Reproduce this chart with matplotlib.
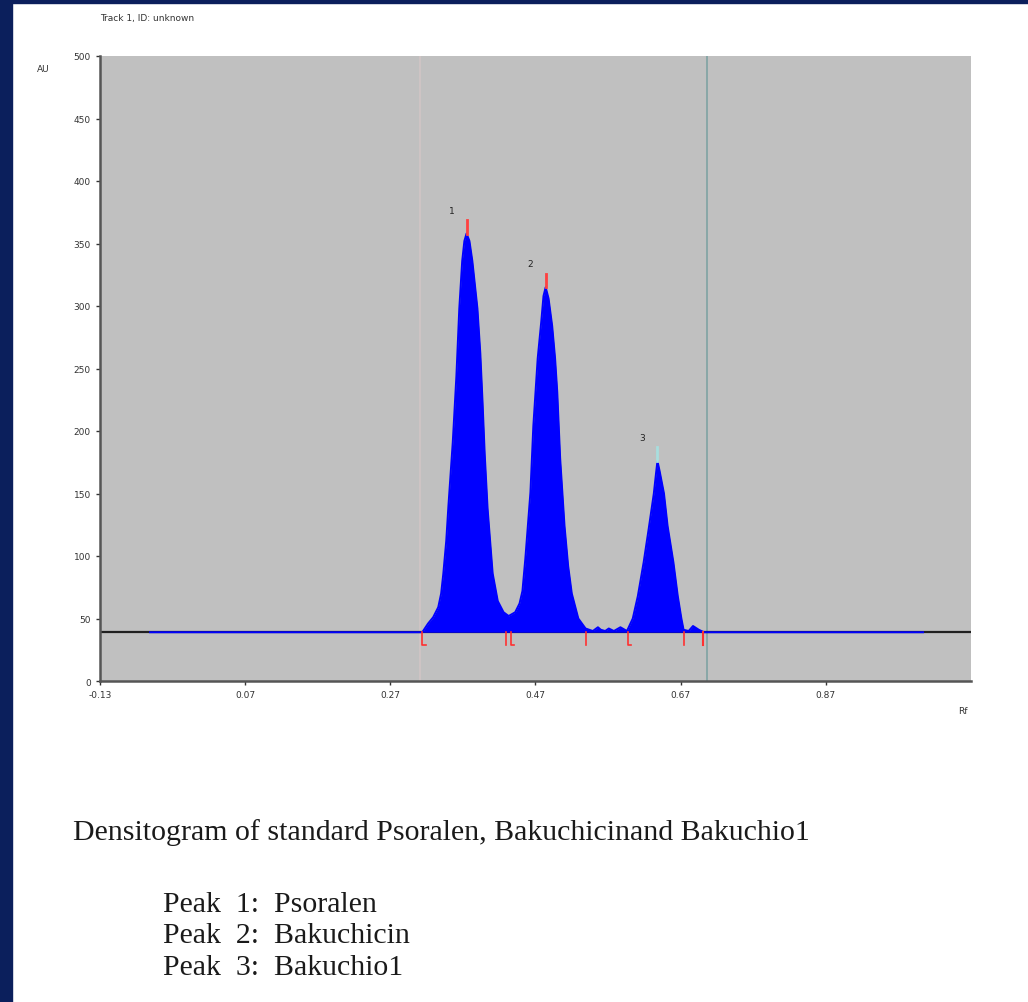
# HPTLC densitogram of standard psoralen, bakuchicin and bakuchiol

import matplotlib
matplotlib.use("Agg")
import matplotlib.pyplot as plt
from matplotlib.patches import Rectangle

# scan: Rf vs AU
rf = [-0.061, 0.314, 0.322, 0.329, 0.336, 0.340, 0.343, 0.347, 0.350, 0.356,
      0.361, 0.365, 0.369, 0.372, 0.375, 0.379, 0.383, 0.390, 0.394, 0.397,
      0.400, 0.404, 0.411, 0.418, 0.426, 0.433,
      0.442, 0.448, 0.452, 0.456, 0.463, 0.467, 0.473, 0.478, 0.481, 0.484,
      0.488, 0.493, 0.497, 0.500, 0.504, 0.510, 0.515, 0.520, 0.529, 0.539,
      0.549, 0.556, 0.560, 0.566, 0.571, 0.578, 0.587, 0.596,
      0.604, 0.611, 0.619, 0.626, 0.633, 0.636, 0.638, 0.641, 0.647,
      0.652, 0.660, 0.666, 0.671, 0.674, 0.681, 0.687, 0.695, 0.702, 1.004]
au = [39, 39, 46, 51, 59, 70, 86, 112, 140, 191,
      244, 298, 336, 352, 358, 352, 336, 298, 262, 224,
      182, 138, 86, 64, 55, 52,
      55, 62, 72, 98, 151, 204, 258, 288, 308, 315,
      306, 284, 258, 231, 178, 124, 92, 70, 50, 42,
      40, 43, 41, 40, 42, 40, 43, 40,
      50, 68, 95, 122, 150, 166, 176, 168, 150,
      124, 95, 68, 50, 41, 40, 44, 41, 39, 39]
baseline = 39

# peaks
peak_names = ["1", "2", "3"]
peak_start = [0.314, 0.436, 0.597]
peak_max_rf = [0.375, 0.484, 0.638]
peak_max_au = [358, 315, 176]
peak_end = [0.430, 0.539, 0.674]
peak_mark_col = ["#ff4040", "#ff4040", "#a8dede"]

# track limits (vertical lines)
track_lines = [0.311, 0.706]
track_cols = ["#d2c6c6", "#7fa3a3"]

xticks = [-0.13, 0.07, 0.27, 0.47, 0.67, 0.87]
xticklabels = ["-0.13", "0.07", "0.27", "0.47", "0.67", "0.87"]
yticks = [0, 50, 100, 150, 200, 250, 300, 350, 400, 450, 500]

caption = "Densitogram of standard Psoralen, Bakuchicinand Bakuchio1"
peak_lines = ["Peak  1:  Psoralen", "Peak  2:  Bakuchicin", "Peak  3:  Bakuchio1"]

fig = plt.figure(figsize=(10.28, 10.03), dpi=100)
fig.patch.set_facecolor("white")
# navy frame on the left and top
fig.patches.append(Rectangle((0, 0), 12/1028, 1, transform=fig.transFigure,
                             color="#0b1f5c", zorder=0))
fig.patches.append(Rectangle((0, 1-4/1003), 1, 4/1003, transform=fig.transFigure,
                             color="#0b1f5c", zorder=0))

ax = fig.add_axes([100/1028, 321/1003, 871/1028, 625/1003])
ax.set_facecolor("#c0c0c0")
ax.set_xlim(-0.13, 1.07)
ax.set_ylim(0, 500)

for x, c in zip(track_lines, track_cols):
    ax.axvline(x, color=c, lw=1.2, zorder=1)

ax.axhline(baseline, color="#202020", lw=1.6, zorder=2)
ax.fill_between(rf, baseline, au, color="#0000ff", lw=0, zorder=3)
ax.plot(rf, au, color="#0000ff", lw=1.4, zorder=4)

# integration marks
for i in range(3):
    ax.plot([peak_max_rf[i]]*2, [peak_max_au[i], peak_max_au[i]+11],
            color=peak_mark_col[i], lw=2, zorder=5)
    ax.plot([peak_start[i], peak_start[i], peak_start[i]+0.005],
            [baseline, baseline-10, baseline-10], color="#ff3030", lw=1.2, zorder=5)
    ax.plot([peak_end[i]]*2, [baseline, baseline-10], color="#ff3030", lw=1.2, zorder=5)
    ax.annotate(peak_names[i], (peak_max_rf[i], peak_max_au[i]), xytext=(-13, 15),
                textcoords="offset points", fontsize=6.5, color="#222222")
ax.plot([0.701]*2, [baseline, baseline-10], color="#ff3030", lw=1.5, zorder=5)

ax.set_xticks(xticks)
ax.set_xticklabels(xticklabels)
ax.set_yticks(yticks)
ax.tick_params(labelsize=6.5, colors="#333333", length=3, width=1)
for s in ["top", "right"]:
    ax.spines[s].set_visible(False)
for s in ["left", "bottom"]:
    ax.spines[s].set_color("#555555")
    ax.spines[s].set_linewidth(1.8)

fig.text(100/1028, 1-18/1003, "Track 1, ID: unknown", fontsize=6.5, color="#333333",
         va="center")
fig.text(37/1028, 1-70/1003, "AU", fontsize=6.5, color="#333333", va="center")
fig.text(958/1028, 1-712/1003, "Rf", fontsize=6.5, color="#333333", va="center")

fig.text(73/1028, 1-833/1003, caption, fontsize=21.5, family="Liberation Serif",
         color="#1a1a1a", va="center")
for i, t in enumerate(peak_lines):
    fig.text(163/1028, 1-(905+31.5*i)/1003, t, fontsize=21.5, family="Liberation Serif",
             color="#1a1a1a", va="center")

fig.savefig("out.png", dpi=100)
